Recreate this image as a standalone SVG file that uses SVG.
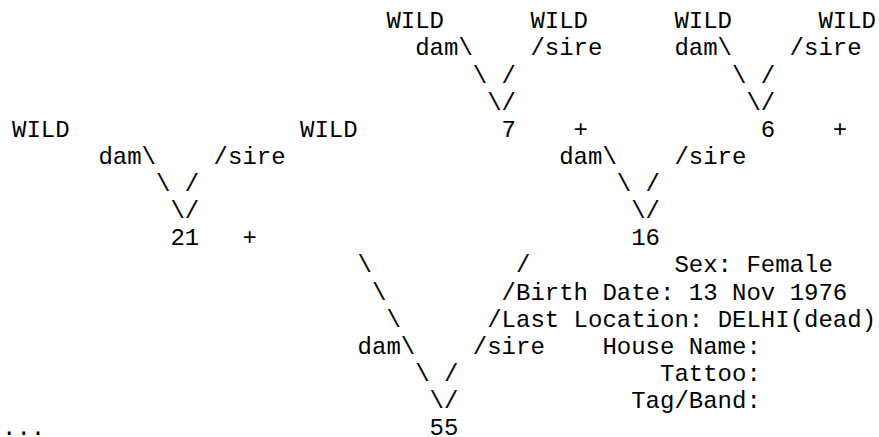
<svg xmlns="http://www.w3.org/2000/svg" width="879" height="437" viewBox="0 0 879 437" xml:space="preserve">
<style>
text { font-family: "Liberation Mono", "Courier New", monospace; font-size: 24px; fill: #000; }
</style>
<rect width="879" height="437" fill="#fff"/>
<g id="connectors">
  <text x="415.2" y="55.4">dam\</text>
  <text x="530.4" y="55.4">/sire</text>
  <text x="674.4" y="55.4">dam\</text>
  <text x="789.6" y="55.4">/sire</text>
  <text x="472.8" y="82.5">\  /</text>
  <text x="732" y="82.5">\  /</text>
  <text x="487.2" y="109.7">\/</text>
  <text x="746.4" y="109.7">\/</text>
  <text x="98.4" y="163.9">dam\</text>
  <text x="213.6" y="163.9">/sire</text>
  <text x="559.2" y="163.9">dam\</text>
  <text x="674.4" y="163.9">/sire</text>
  <text x="156" y="191">\  /</text>
  <text x="616.8" y="191">\  /</text>
  <text x="170.4" y="218.1">\/</text>
  <text x="631.2" y="218.1">\/</text>
  <text x="357.6" y="272.4">\</text>
  <text x="516" y="272.4">/</text>
  <text x="372" y="299.5">\</text>
  <text x="501.6" y="299.5">/</text>
  <text x="386.4" y="326.6">\</text>
  <text x="487.2" y="326.6">/</text>
  <text x="357.6" y="353.7">dam\</text>
  <text x="472.8" y="353.7">/sire</text>
  <text x="415.2" y="380.9">\  /</text>
  <text x="429.6" y="408">\/</text>
</g>
<g id="node-wild-1"><text x="386.4" y="28.3">WILD</text></g>
<g id="node-wild-2"><text x="530.4" y="28.3">WILD</text></g>
<g id="node-wild-3"><text x="674.4" y="28.3">WILD</text></g>
<g id="node-wild-4"><text x="818.4" y="28.3">WILD</text></g>
<g id="node-wild-5"><text x="12" y="136.8">WILD</text></g>
<g id="node-wild-6"><text x="300" y="136.8">WILD</text></g>
<g id="node-7"><text x="501.6" y="136.8">7</text><text x="573.6" y="136.8">+</text></g>
<g id="node-6"><text x="760.8" y="136.8">6</text><text x="832.8" y="136.8">+</text></g>
<g id="node-21"><text x="170.4" y="245.3">21</text><text x="242.4" y="245.3">+</text></g>
<g id="node-16"><text x="631.2" y="245.3">16</text></g>
<g id="node-55">
  <text x="429.6" y="435.1">55</text>
  <text x="674.4" y="272.4">Sex: Female</text>
  <text x="516" y="299.5">Birth Date: 13 Nov 1976</text>
  <text x="501.6" y="326.6">Last Location: DELHI(dead)</text>
  <text x="602.4" y="353.7">House Name:</text>
  <text x="660" y="380.9">Tattoo:</text>
  <text x="631.2" y="408">Tag/Band:</text>
</g>
<g id="node-more"><text x="2" y="435.1">...</text></g>
</svg>
